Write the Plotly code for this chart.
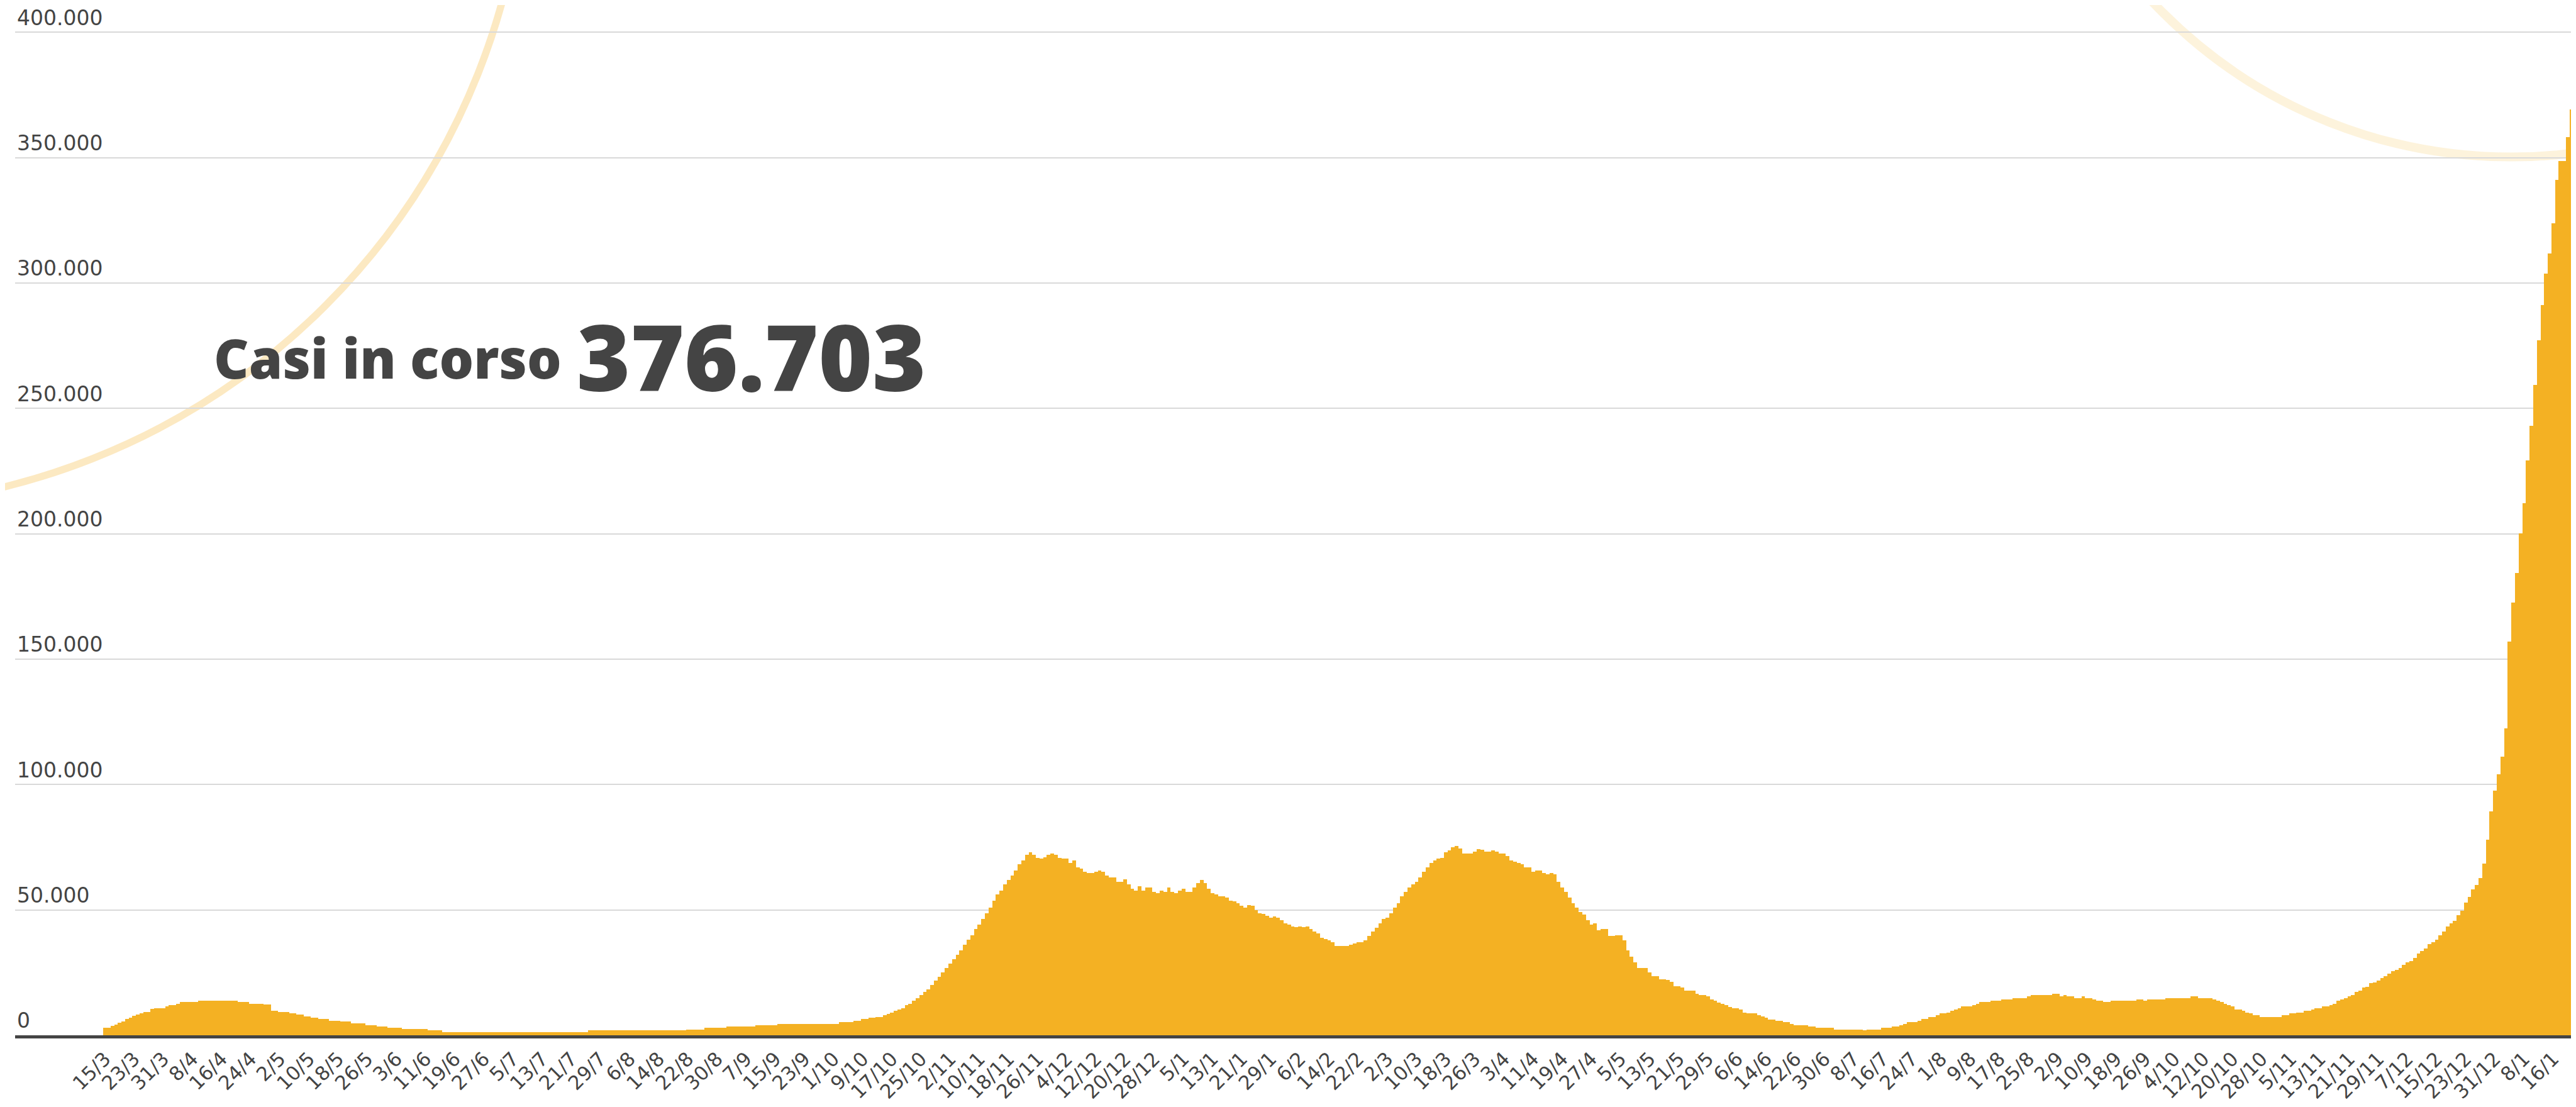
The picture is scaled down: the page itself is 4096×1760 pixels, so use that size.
import plotly.graph_objects as go
import pandas as pd

# ---------------- data ----------------
START_DATE = "2020-03-15"

# active cases ("casi in corso"), thousands, one bar per day
CASES_2020_K = [
    3.0, 3.0, 3.7, 4.2, 5.0, 5.6, 6.4, 7.1, 7.8, 8.4,
    8.9, 9.2, 9.2, 10.5, 10.9, 10.9, 10.9, 11.6, 12.1, 12.1,
    12.6, 13.4, 13.4, 13.4, 13.4, 13.4, 13.9, 13.9, 13.9, 13.9,
    13.9, 13.9, 13.9, 13.9, 13.9, 13.9, 13.9, 13.4, 13.4, 13.4,
    12.6, 12.6, 12.6, 12.6, 12.2, 12.2, 9.9, 9.9, 9.3, 9.3,
    9.3, 8.9, 8.9, 8.2, 8.2, 7.6, 7.6, 7.1, 7.1, 6.4,
    6.4, 6.4, 5.8, 5.8, 5.8, 5.4, 5.4, 5.4, 4.7, 4.7,
    4.7, 4.7, 4.1, 4.1, 4.1, 3.6, 3.6, 3.6, 3.0, 3.0,
    3.0, 3.0, 2.4, 2.4, 2.4, 2.4, 2.4, 2.4, 2.4, 1.9,
    1.9, 1.9, 1.9, 1.3, 1.3, 1.3, 1.3, 1.3, 1.3, 1.3,
    1.3, 1.3, 1.3, 1.3, 1.3, 1.3, 1.3, 1.3, 1.3, 1.3,
    1.3, 1.3, 1.3, 1.3, 1.3, 1.3, 1.3, 1.3, 1.3, 1.3,
    1.3, 1.3, 1.3, 1.3, 1.3, 1.3, 1.3, 1.3, 1.3, 1.3,
    1.3, 1.3, 1.3, 1.9, 1.9, 1.9, 1.9, 1.9, 1.9, 1.9,
    1.9, 1.9, 1.9, 1.9, 1.9, 1.9, 1.9, 1.9, 1.9, 1.9,
    1.9, 1.9, 1.9, 1.9, 1.9, 1.9, 1.9, 1.9, 1.9, 1.9,
    2.3, 2.3, 2.3, 2.3, 2.3, 2.9, 2.9, 2.9, 2.9, 2.9,
    2.9, 3.6, 3.6, 3.6, 3.6, 3.6, 3.6, 3.6, 3.6, 4.0,
    4.0, 4.0, 4.0, 4.0, 4.0, 4.6, 4.6, 4.6, 4.6, 4.6,
    4.6, 4.6, 4.6, 4.6, 4.6, 4.6, 4.6, 4.6, 4.6, 4.6,
    4.6, 4.6, 5.3, 5.3, 5.3, 5.3, 5.7, 5.7, 6.4, 6.4,
    7.0, 7.0, 7.4, 7.4, 8.0, 8.6, 9.1, 9.8, 10.4, 10.9,
    12.1, 12.6, 13.9, 14.9, 16.0, 17.2, 18.4, 20.0, 21.8, 23.4,
    25.2, 26.8, 28.6, 30.3, 32.0, 33.8, 36.1, 38.2, 40.0, 42.3,
    44.1, 46.3, 48.6, 50.8, 53.7, 56.1, 57.8, 60.1, 61.9, 63.6,
    65.7, 68.1, 69.8, 72.1, 73.1, 72.1, 70.8, 70.4, 70.9, 72.0,
    72.5, 72.1, 70.8, 70.4, 70.4, 68.8, 69.8, 67.0, 66.4, 65.3,
    64.7, 64.7, 65.3, 65.7, 65.3, 63.6, 62.9, 62.9, 61.2, 61.2,
    62.3, 60.1, 58.4, 57.8, 59.5, 57.8, 58.9, 58.9, 57.1, 56.7,
    57.8, 57.1,
]

CASES_2021_K = [
    58.9, 57.1, 56.7, 57.8, 58.4, 57.1, 57.1, 58.9,
    60.6, 61.9, 60.6, 58.4, 56.7, 56.1, 55.4, 55.4, 55.0, 53.7,
    53.3, 52.6, 51.6, 50.9, 52.0, 51.6, 50.0, 48.7, 48.3, 47.6,
    46.8, 47.4, 46.8, 45.8, 44.7, 44.1, 43.5, 43.1, 43.5, 43.1,
    43.5, 42.3, 41.3, 40.6, 38.9, 38.3, 37.9, 37.2, 35.6, 35.6,
    35.6, 35.6, 36.1, 36.6, 37.2, 37.2, 37.9, 39.6, 41.3, 43.0,
    44.7, 46.4, 46.8, 48.6, 50.9, 52.6, 55.4, 57.1, 58.9, 60.1,
    61.2, 62.9, 65.3, 67.0, 68.7, 69.8, 70.4, 70.8, 73.1, 73.8,
    74.9, 75.6, 74.4, 72.5, 72.5, 72.5, 73.2, 74.3, 73.9, 73.2,
    73.2, 73.8, 73.2, 72.5, 72.5, 71.5, 69.7, 69.2, 68.8, 68.1,
    67.0, 67.0, 65.3, 65.7, 65.7, 64.6, 64.1, 64.6, 64.1, 61.2,
    58.9, 57.1, 55.0, 52.6, 50.9, 49.2, 48.1, 45.8, 44.1, 44.7,
    41.8, 42.3, 42.3, 39.6, 39.6, 40.0, 40.0, 37.9, 33.8, 31.4,
    29.2, 26.9, 26.9, 26.9, 25.1, 23.5, 23.5, 22.4, 22.4, 22.0,
    21.3, 19.5, 19.5, 19.0, 17.7, 17.7, 17.7, 16.6, 16.0, 16.0,
    15.6, 14.3, 13.8, 13.1, 12.6, 12.1, 11.4, 10.8, 10.8, 10.4,
    9.1, 8.7, 8.7, 8.7, 8.1, 7.6, 7.0, 6.3, 6.3, 5.7,
    5.7, 5.3, 5.3, 4.6, 4.0, 4.0, 4.0, 4.0, 3.6, 3.6,
    2.9, 2.9, 2.9, 2.9, 2.9, 2.3, 2.3, 2.3, 2.3, 2.3,
    2.3, 2.3, 2.3, 1.9, 2.3, 2.3, 2.3, 2.3, 2.9, 2.9,
    2.9, 3.5, 3.6, 4.0, 4.6, 5.3, 5.3, 5.3, 5.7, 6.4,
    6.4, 7.4, 7.4, 8.1, 8.7, 8.7, 9.1, 9.8, 10.4, 10.9,
    11.5, 11.5, 11.5, 12.1, 12.6, 13.2, 13.2, 13.2, 13.9, 13.9,
    13.9, 14.3, 14.3, 14.3, 14.9, 14.9, 14.9, 14.9, 15.6, 16.0,
    16.0, 16.0, 16.0, 16.0, 16.0, 16.6, 16.6, 15.6, 16.0, 15.6,
    15.6, 14.9, 14.9, 15.6, 14.9, 14.9, 14.3, 13.9, 13.9, 13.2,
    13.2, 13.9, 13.9, 13.9, 13.9, 13.9, 13.9, 13.9, 14.3, 14.3,
    13.9, 14.3, 14.3, 14.3, 14.3, 14.3, 14.9, 14.9, 14.9, 14.9,
    14.9, 14.9, 14.9, 15.6, 15.6, 14.9, 14.9, 14.9, 14.9, 14.3,
    13.9, 13.2, 12.6, 12.1, 11.5, 10.4, 10.4, 9.8, 9.1, 8.7,
    8.1, 8.1, 7.4, 7.4, 7.4, 7.4, 7.4, 7.4, 8.1, 8.1,
    8.7, 8.7, 9.1, 9.1, 9.8, 9.8, 10.4, 10.9, 10.9, 11.5,
    11.5, 12.0, 12.5, 13.8, 14.4, 14.9, 15.6, 16.0, 17.3, 17.7,
    19.0, 19.4, 20.7, 21.1, 21.8, 22.8, 23.5, 24.5, 25.7, 26.2,
    26.8, 28.0, 29.1, 29.5, 30.9, 32.6, 33.6, 34.7, 36.4, 37.1,
    38.1, 39.8, 41.5, 43.3, 44.6, 45.6, 47.9, 49.7, 53.0, 55.1,
    58.3, 59.9, 62.7, 68.5, 78.0, 89.3, 97.5,
]

CASES_2022_K = [
    104.2, 111.1, 122.4, 157.1, 172.5, 184.4, 200.1, 212.3, 229.2, 243.0,
    259.3, 277.1, 291.3, 303.7, 311.8, 323.7, 341.1, 348.6, 348.6, 358.2,
    369.2, 376.703,
]

X_TICK_LABELS = [
    "15/3", "23/3", "31/3", "8/4", "16/4", "24/4", "2/5", "10/5", "18/5", "26/5",
    "3/6", "11/6", "19/6", "27/6", "5/7", "13/7", "21/7", "29/7", "6/8", "14/8",
    "22/8", "30/8", "7/9", "15/9", "23/9", "1/10", "9/10", "17/10", "25/10", "2/11",
    "10/11", "18/11", "26/11", "4/12", "12/12", "20/12", "28/12",
    "5/1", "13/1", "21/1", "29/1", "6/2", "14/2", "22/2", "2/3", "10/3", "18/3",
    "26/3", "3/4", "11/4", "19/4", "27/4", "5/5", "13/5", "21/5", "29/5", "6/6",
    "14/6", "22/6", "30/6", "8/7", "16/7", "24/7", "1/8", "9/8", "17/8", "25/8",
    "2/9", "10/9", "18/9", "26/9", "4/10", "12/10", "20/10", "28/10", "5/11", "13/11",
    "21/11", "29/11", "7/12", "15/12", "23/12", "31/12",
    "8/1", "16/1",
]
Y_TICK_VALUES = [0, 50000, 100000, 150000, 200000, 250000, 300000, 350000, 400000]
Y_TICK_LABELS = ["0", "50.000", "100.000", "150.000", "200.000",
                 "250.000", "300.000", "350.000", "400.000"]

TITLE_LABEL = "Casi in corso"
TITLE_VALUE = "376.703"

# ---------------- styling ----------------
BAR_COLOR = "#F4B123"
TEXT_COLOR = "#444444"
GRID_COLOR = "#D9D9D9"
TICK_FONT = "DejaVu Sans"

# the page body has an 8 px default margin: figure px = window px - OFF
OFF = 8
W, H = 4096 - OFF, 1760 - OFF
PLOT_LEFT_WIN = 23.8
ZERO_WIN = 1646.0
TOP_GRID_WIN = 51.2
M_L, M_R, M_T = PLOT_LEFT_WIN - OFF, 0, 0
M_B = H - (ZERO_WIN - OFF)
PW, PH = W - M_L - M_R, H - M_T - M_B


def px_x(xw):
    """window x pixel -> paper x"""
    return (xw - OFF - M_L) / PW


def px_y(yw):
    """window y pixel -> paper y"""
    return (M_T + PH - (yw - OFF)) / PH


cases = [round(v * 1000) for v in CASES_2020_K + CASES_2021_K + CASES_2022_K]
dates = pd.date_range(START_DATE, periods=len(cases), freq="D")
tick_dates = list(dates[::8][:len(X_TICK_LABELS)])

x_start = dates[0] + pd.Timedelta(days=-24.69)
x_end = dates[0] + pd.Timedelta(days=678.25)

fig = go.Figure()
fig.add_trace(go.Bar(
    x=dates, y=cases,
    marker=dict(color=BAR_COLOR, line=dict(width=0)),
    hoverinfo="skip",
))

# decorative circles (window pixels): translucent orange rings over the grid
circles = [
    (-254.7, -286.1, 1091.8, "rgba(245,177,35,0.28)", 11.5),
    (3992.8, -533.2, 782.8, "rgba(245,177,35,0.155)", 14),
]
shapes = []
for cx, cy, r, col, lw in circles:
    shapes.append(dict(
        type="circle", xref="paper", yref="paper", layer="between",
        x0=px_x(cx - r), x1=px_x(cx + r),
        y0=px_y(cy + r), y1=px_y(cy - r),
        line=dict(color=col, width=lw), fillcolor="rgba(0,0,0,0)",
    ))

annotations = [
    dict(text=TITLE_LABEL, xref="paper", yref="paper",
         x=px_x(338), y=px_y(568), xanchor="left", yanchor="middle",
         showarrow=False,
         font=dict(family="Open Sans", size=86, weight=800, color=TEXT_COLOR)),
    dict(text=TITLE_VALUE, xref="paper", yref="paper",
         x=px_x(915), y=px_y(565), xanchor="left", yanchor="middle",
         showarrow=False,
         font=dict(family="Open Sans", size=146, weight=800, color=TEXT_COLOR)),
]

ymax = 400000 * PH / (PH - (TOP_GRID_WIN - OFF))

fig.update_layout(
    width=W, height=H,
    margin=dict(l=M_L, r=M_R, t=M_T, b=M_B, pad=0, autoexpand=False),
    paper_bgcolor="white", plot_bgcolor="white",
    bargap=0, showlegend=False,
    shapes=shapes, annotations=annotations,
    xaxis=dict(
        type="date", range=[x_start, x_end],
        tickmode="array", tickvals=tick_dates, ticktext=X_TICK_LABELS,
        tickangle=-45, ticks="", showgrid=False, zeroline=False,
        showline=True, linecolor=TEXT_COLOR, linewidth=5,
        tickfont=dict(family=TICK_FONT, size=31, color=TEXT_COLOR),
        ticklabelstandoff=2, automargin=False,
    ),
    yaxis=dict(
        range=[0, ymax],
        tickmode="array", tickvals=Y_TICK_VALUES, ticktext=Y_TICK_LABELS,
        ticks="", showgrid=True, gridcolor=GRID_COLOR, gridwidth=2,
        zeroline=False, showline=False, automargin=False,
        ticklabelposition="inside top", ticklabeloverflow="allow",
        tickfont=dict(family=TICK_FONT, size=33, color=TEXT_COLOR),
    ),
)

fig.write_html("out.html")
